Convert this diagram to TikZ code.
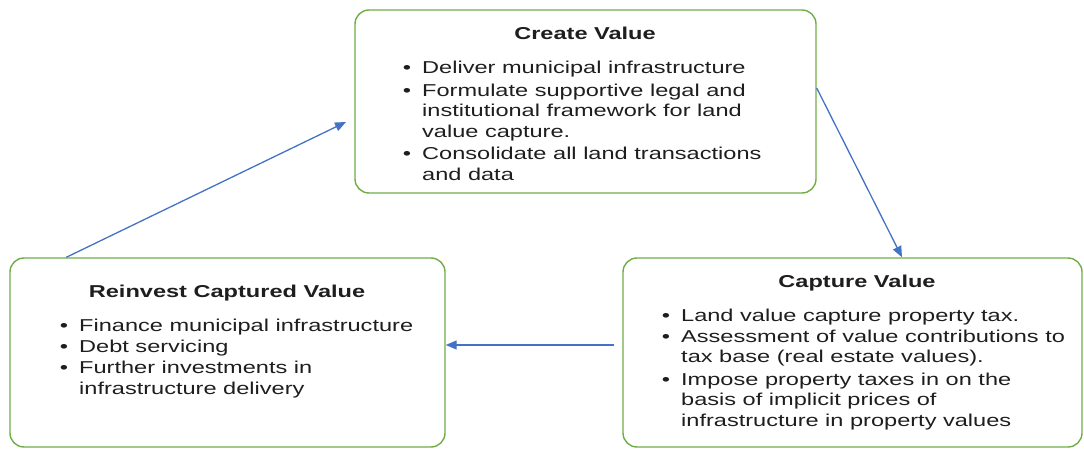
\documentclass[tikz,border=0pt]{standalone}
\usepackage{fontspec}
\setmainfont[FakeStretch=1.37]{Liberation Sans}
\usetikzlibrary{arrows.meta}
\definecolor{boxgreen}{RGB}{112,173,71}
\definecolor{arrowblue}{RGB}{68,114,196}
\definecolor{txt}{RGB}{30,30,30}
\newcommand{\bitem}{\llap{\textbullet\hspace{11pt}}}
\begin{document}
\begin{tikzpicture}[x=1pt,y=-1pt,
  box/.style={draw=boxgreen, line width=1.4pt, rounded corners=14pt, fill=white, inner sep=0pt},
  boxtitle/.style={anchor=base, inner sep=0pt, font=\fontsize{17.2}{20.5}\selectfont\bfseries, text=txt},
  boxbody/.style={anchor=base west, inner sep=0pt, font=\fontsize{17.2}{20.5}\selectfont, text=txt},
  arr/.style={draw=arrowblue, line width=1.3pt, -{Triangle[length=11pt,width=9pt]}}]
\useasboundingbox (0,0) rectangle (1084,449);
% boxes
\node[box, minimum width=461pt, minimum height=183pt] (create) at (585.5,101.5) {};
\node[box, minimum width=435pt, minimum height=189pt] (reinvest) at (227.5,352.5) {};
\node[box, minimum width=459pt, minimum height=189pt] (capture) at (852.5,352.5) {};
% titles
\node[boxtitle] (createT) at (585,40) {Create Value};
\node[boxtitle] (reinvestT) at (227,297) {Reinvest Captured Value};
\node[boxtitle] (captureT) at (857,287) {Capture Value};
% bodies
\node[boxbody] (createB) at (422,74) {\begin{tabular}[t]{@{}l@{}}
\bitem Deliver municipal infrastructure\\[2pt]
\bitem Formulate supportive legal and\\
institutional framework for land\\
value capture.\\[2pt]
\bitem Consolidate all land transactions\\
and data
\end{tabular}};
\node[boxbody] (reinvestB) at (79,331) {\begin{tabular}[t]{@{}l@{}}
\bitem Finance municipal infrastructure\\[0.5pt]
\bitem Debt servicing\\[0.5pt]
\bitem Further investments in\\[0.5pt]
infrastructure delivery
\end{tabular}};
\node[boxbody] (captureB) at (681,321) {\begin{tabular}[t]{@{}l@{}}
\bitem Land value capture property tax.\\[0.5pt]
\bitem Assessment of value contributions to\\
tax base (real estate values).\\[2pt]
\bitem Impose property taxes in on the\\
basis of implicit prices of\\
infrastructure in property values
\end{tabular}};
% connectors
\coordinate (a1e) at (346,122);
\draw[arr] ([xshift=57pt]reinvest.north west) -- (a1e);
\draw[arr] ([yshift=13.5pt]create.east) -- ([xshift=49.5pt]capture.north);
\draw[arr] ([xshift=-8pt,yshift=7.5pt]capture.west) -- ([yshift=7.5pt]reinvest.east);
\end{tikzpicture}
\end{document}
